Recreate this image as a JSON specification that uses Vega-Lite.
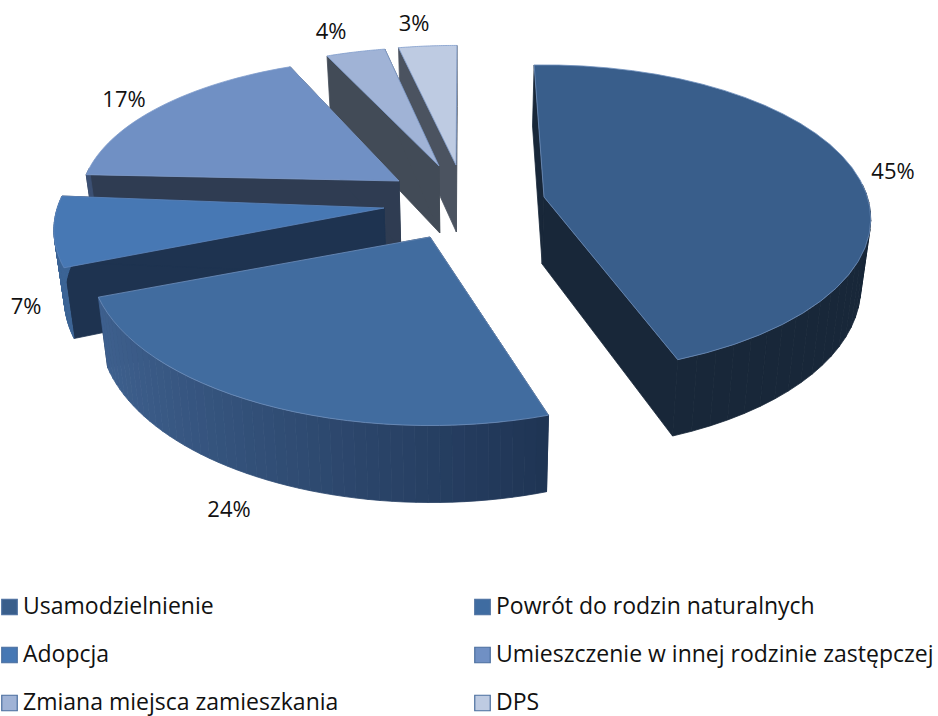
{
"$schema":"https://vega.github.io/schema/vega-lite/v6.json",
"width":938,"height":716,"padding":0,
"autosize":{"type":"fit","contains":"padding"},
"background":"white",
"config":{"view":{"stroke":null}},
"data":{"values":[
{"category":"DPS","value":3,"ord":6},
{"category":"Zmiana miejsca zamieszkania","value":4,"ord":5},
{"category":"Umieszczenie w innej rodzinie zastępczej","value":17,"ord":4},
{"category":"Adopcja","value":7,"ord":3},
{"category":"Powrót do rodzin naturalnych","value":24,"ord":2},
{"category":"Usamodzielnienie","value":45,"ord":1}
]},
"resolve":{"scale":{"fill":"independent","stroke":"independent"}},
"layer":[
{
"mark":{"type":"point","shape":"square","filled":true,"opacity":0},
"encoding":{
"fill":{"field":"category","type":"nominal",
 "scale":{"domain":["Usamodzielnienie","Powrót do rodzin naturalnych","Adopcja","Umieszczenie w innej rodzinie zastępczej","Zmiana miejsca zamieszkania","DPS"],"range":["#395E8B","#3F6CA1","#4778B4","#7090C4","#A0B3D6","#BECBE2"]},
 "legend":{"title":null,"orient":"none","legendX":-2,"legendY":594,"direction":"horizontal","columns":2,"columnPadding":132,"rowPadding":22,"symbolType":"square","symbolSize":240,"symbolOpacity":1,"symbolStrokeColor":"#4A6E9E","symbolStrokeWidth":1.2,"labelFont":"Open Sans","labelFontSize":23,"labelColor":"#111111","labelOffset":2,"labelLimit":500,"symbolOffset":0,"clipHeight":26,"gridAlign":"each"}}
}
},
{
"transform":[
{"window":[{"op":"sum","field":"value","as":"cum"}],"sort":[{"field":"ord","order":"ascending"}]},
{"calculate":"{'Usamodzielnienie':{ax:544,ay:197,sx:0.98,sy:1,d0:-2,d1:-3,top:'#395E8B',wall:'#182739',edge:'#6F8FBC',dk:[24,39,57],lt:[24,39,57]},'Powrót do rodzin naturalnych':{ax:430,ay:237,sx:1.02,sy:1.07,d0:0.3,d1:0.9,top:'#416C9F',wall:'#1E3350',edge:'#6F8FBC',dk:[30,51,82],lt:[62,96,142]},'Adopcja':{ax:384,ay:208,sx:0.99,sy:1,d0:-0.4,d1:1,top:'#4778B4',wall:'#1E3350',edge:'#5F86BC',dk:[60,100,150],lt:[60,100,150]},'Umieszczenie w innej rodzinie zastępczej':{ax:399,ay:181,sx:0.955,sy:0.93,d0:-1,d1:2.2,top:'#7090C4',wall:'#2F3C52',edge:'#7F9CCB',dk:[60,80,115],lt:[60,80,115]},'Zmiana miejsca zamieszkania':{ax:439,ay:166,sx:0.955,sy:0.9,d0:1.5,d1:-0.5,top:'#A0B3D6',wall:'#424B57',edge:'#7F9CCB',dk:[66,75,87],lt:[66,75,87]},'DPS':{ax:456,ay:165,sx:0.955,sy:0.905,d0:-1.2,d1:0.2,top:'#BECBE2',wall:'#4B5360',edge:'#7F9CCB',dk:[75,83,96],lt:[75,83,96]}}[datum.category]","as":"tw"},
{"calculate":"((datum.cum-datum.value)*3.6+datum.tw.d0)*PI/180","as":"a0"},
{"calculate":"(datum.cum*3.6+datum.tw.d1)*PI/180","as":"a1"},
{"calculate":"sequence(0,51)","as":"piece"},
{"flatten":["piece"]},
{"calculate":"datum.a0+(datum.a1-datum.a0)*(datum.piece-2)/48","as":"th0"},
{"calculate":"datum.a0+(datum.a1-datum.a0)*(datum.piece-1)/48","as":"th1"},
{"filter":"datum.piece<2||datum.piece==50||cos((datum.th0+datum.th1)/2)<0.1"},
{"calculate":"datum.piece==50?sequence(0,35):sequence(0,5)","as":"n"},
{"flatten":["n"]},
{"calculate":"datum.piece==50?((datum.n==0||datum.n==34)?0:1):(datum.piece<2?((datum.n%4==0||datum.n%4==3)?0:1):1)","as":"r"},
{"calculate":"datum.piece==50?0:(datum.n%4>=2?1:0)","as":"z"},
{"calculate":"datum.piece==50?datum.a0+(datum.a1-datum.a0)*(clamp(datum.n,1,33)-1)/32:(datum.piece==0?datum.a0:(datum.piece==1?datum.a1:((datum.n%4==0||datum.n%4==3)?datum.th0:datum.th1)))","as":"th"},
{"calculate":"1/(1+0.143*datum.r*cos(datum.th))","as":"w"},
{"calculate":"datum.tw.ax+datum.r*330*datum.tw.sx*sin(datum.th)*datum.w","as":"px"},
{"calculate":"datum.tw.ay-datum.r*151*datum.tw.sy*cos(datum.th)*datum.w","as":"py"},
{"calculate":"datum.z==1?470+(datum.px-470)*0.975:datum.px","as":"X"},
{"calculate":"datum.py+datum.z*(67-(cos(datum.th)>0?6:10)*datum.r*cos(datum.th))","as":"Y"},
{"calculate":"clamp(((1-sin((datum.th0+datum.th1)/2))/2-0.33)/0.64,0,1)","as":"q"},
{"calculate":"datum.piece==50?datum.tw.top:(datum.piece<2?datum.tw.wall:'rgb('+round(datum.tw.dk[0]+(datum.tw.lt[0]-datum.tw.dk[0])*datum.q)+','+round(datum.tw.dk[1]+(datum.tw.lt[1]-datum.tw.dk[1])*datum.q)+','+round(datum.tw.dk[2]+(datum.tw.lt[2]-datum.tw.dk[2])*datum.q)+')')","as":"fillc"},
{"calculate":"datum.piece==50?datum.tw.edge:datum.fillc","as":"strokec"},
{"calculate":"datum.category+'|'+datum.piece","as":"pk"}
],
"mark":{"type":"line","filled":true,"strokeWidth":0.8,"interpolate":"linear","opacity":1,"fillOpacity":1,"strokeOpacity":1},
"encoding":{
"x":{"field":"X","type":"quantitative","scale":{"domain":[0,938],"nice":false,"zero":false},"axis":null},
"y":{"field":"Y","type":"quantitative","scale":{"domain":[716,0],"nice":false,"zero":false},"axis":null},
"order":{"field":"n","type":"quantitative"},
"detail":{"field":"pk","type":"nominal"},
"fill":{"field":"fillc","type":"nominal","scale":null,"legend":null},
"stroke":{"field":"strokec","type":"nominal","scale":null,"legend":null}
}
},
{
"transform":[
{"calculate":"datum.value+'%'","as":"label"},
{"calculate":"{'Usamodzielnienie':893,'Powrót do rodzin naturalnych':229,'Adopcja':26,'Umieszczenie w innej rodzinie zastępczej':124,'Zmiana miejsca zamieszkania':331,'DPS':414}[datum.category]","as":"lx"},
{"calculate":"{'Usamodzielnienie':172,'Powrót do rodzin naturalnych':510,'Adopcja':307,'Umieszczenie w innej rodzinie zastępczej':100,'Zmiana miejsca zamieszkania':32,'DPS':24}[datum.category]","as":"ly"}
],
"mark":{"type":"text","font":"Open Sans","fontSize":22,"color":"#111111","align":"center","baseline":"middle"},
"encoding":{
"x":{"field":"lx","type":"quantitative","scale":{"domain":[0,938],"nice":false,"zero":false},"axis":null},
"y":{"field":"ly","type":"quantitative","scale":{"domain":[716,0],"nice":false,"zero":false},"axis":null},
"text":{"field":"label","type":"nominal"}
}
}
]
}
